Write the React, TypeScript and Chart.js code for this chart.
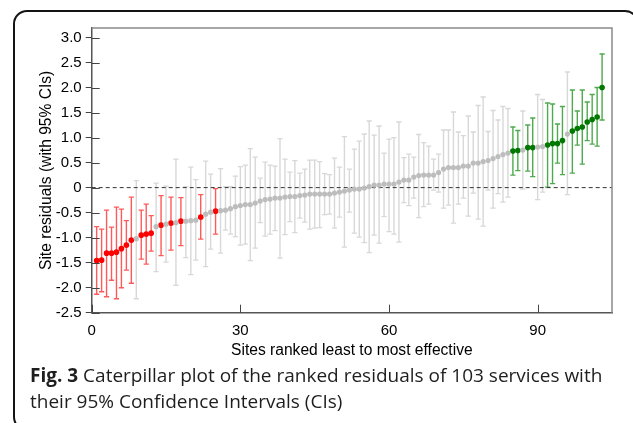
import React, { useEffect, useRef } from 'react';
import { Chart, registerables } from 'chart.js';

Chart.register(...registerables);

// Site residual estimates, ranked least to most effective (rank = position + 1)
const siteEstimate = [
  -1.46, -1.45, -1.31, -1.31, -1.29, -1.22, -1.15, -1.05, -1.02, -0.95,
  -0.93, -0.91, -0.78, -0.75, -0.73, -0.71, -0.70, -0.67, -0.67, -0.66,
  -0.65, -0.59, -0.53, -0.49, -0.47, -0.46, -0.45, -0.42, -0.38, -0.36,
  -0.34, -0.34, -0.31, -0.27, -0.24, -0.23, -0.21, -0.21, -0.19, -0.18,
  -0.18, -0.16, -0.15, -0.13, -0.13, -0.13, -0.13, -0.13, -0.11, -0.09,
  -0.07, -0.05, -0.03, -0.03, -0.01, 0.02, 0.05, 0.05, 0.07, 0.07,
  0.07, 0.11, 0.15, 0.15, 0.21, 0.24, 0.25, 0.25, 0.25, 0.30,
  0.37, 0.40, 0.40, 0.40, 0.43, 0.43, 0.49, 0.49, 0.52, 0.54,
  0.58, 0.62, 0.66, 0.69, 0.73, 0.74, 0.75, 0.80, 0.80, 0.81,
  0.82, 0.85, 0.88, 0.88, 0.94, 1.07, 1.13, 1.18, 1.21, 1.31,
  1.36, 1.41, 2.00,
];

const ciLower = [
  -2.13, -2.08, -2.18, -1.85, -2.22, -2.00, -1.65, -1.91, -2.22, -1.43,
  -1.53, -1.27, -1.68, -1.36, -1.49, -1.25, -1.95, -1.16, -1.40, -1.74,
  -1.45, -1.03, -1.58, -1.23, -0.93, -1.31, -0.85, -0.93, -0.98, -1.15,
  -1.13, -1.46, -1.21, -0.70, -0.97, -0.93, -0.86, -1.41, -0.94, -0.68,
  -0.90, -0.61, -0.69, -0.83, -0.81, -0.80, -0.54, -0.53, -0.81, -0.59,
  -1.19, -0.49, -0.91, -0.99, -1.10, -1.30, -0.95, -1.11, -0.58, -0.88,
  -0.93, -1.09, -0.30, -0.36, -0.21, -0.60, -0.38, -0.33, -0.05, -0.09,
  -0.41, -0.35, -0.71, -0.33, -0.21, -0.57, -0.11, -0.63, -0.77, -0.05,
  -0.41, -0.12, -0.29, -0.19, 0.25, 0.34, -0.03, 0.33, 0.22, -0.24,
  -0.09, 0.01, 0.08, 0.49, 0.26, -0.14, 0.29, 0.85, 0.47, 0.94,
  0.87, 0.83, 1.35,
];

const ciUpper = [
  -0.78, -0.83, -0.45, -0.79, -0.39, -0.43, -0.66, -0.19, 0.14, -0.45,
  -0.33, -0.56, 0.09, -0.16, 0.03, -0.19, 0.57, -0.20, 0.02, 0.41,
  0.16, -0.14, 0.53, 0.27, -0.02, 0.38, 0.02, 0.02, 0.23, 0.42,
  0.45, 0.78, 0.61, 0.19, 0.51, 0.45, 0.43, 0.98, 0.57, 0.31,
  0.54, 0.29, 0.37, 0.55, 0.55, 0.52, 0.28, 0.26, 0.59, 0.41,
  1.02, 0.37, 0.77, 0.93, 1.07, 1.33, 1.05, 1.23, 0.69, 0.97,
  1.00, 1.31, 0.60, 0.67, 0.61, 1.06, 0.90, 0.83, 0.57, 0.67,
  1.15, 1.15, 1.51, 1.11, 1.04, 1.43, 1.11, 1.64, 1.81, 1.12,
  1.54, 1.35, 1.62, 1.58, 1.21, 1.14, 1.53, 1.25, 1.39, 1.86,
  1.76, 1.69, 1.67, 1.27, 1.62, 2.31, 1.95, 1.53, 1.95, 1.71,
  1.86, 2.00, 2.67,
];

// Ranks whose CI lies entirely below / above zero
const belowZeroSites = [1, 2, 3, 4, 5, 6, 7, 8, 10, 11, 12, 14, 16, 18, 22, 25];
const aboveZeroSites = [85, 86, 88, 89, 92, 93, 94, 95, 97, 98, 99, 100, 101, 102, 103];

const xTickValues = [0, 30, 60, 90];
const yTickValues = [-2.5, -2.0, -1.5, -1.0, -0.5, 0, 0.5, 1.0, 1.5, 2.0, 2.5, 3.0];
const yTickLabels = ['-2.5', '-2.0', '-1.5', '-1.0', '-0.5', '0', '0.5', '1.0', '1.5', '2.0', '2.5', '3.0'];

const AXIS_FONT = '"Liberation Sans", Arial, sans-serif';

type Pt = { x: number; y: number; lo: number; hi: number };

function buildPoints(filter: (rank: number) => boolean): Pt[] {
  const out: Pt[] = [];
  siteEstimate.forEach((v, i) => {
    const rank = i + 1;
    if (filter(rank)) out.push({ x: rank, y: v, lo: ciLower[i], hi: ciUpper[i] });
  });
  return out;
}

const errorBarPlugin = {
  id: 'errorBars',
  beforeDatasetsDraw(chart: any) {
    const { ctx, chartArea, scales } = chart;
    const xs = scales.x;
    const ys = scales.y;
    ctx.save();
    chart.data.datasets.forEach((ds: any) => {
      ctx.strokeStyle = ds.barColor;
      ctx.lineWidth = 1.4;
      ds.data.forEach((p: Pt) => {
        const px = xs.getPixelForValue(p.x);
        const top = ys.getPixelForValue(p.hi);
        const bot = ys.getPixelForValue(p.lo);
        ctx.beginPath();
        ctx.moveTo(px, top);
        ctx.lineTo(px, bot);
        ctx.moveTo(px - 2.6, top);
        ctx.lineTo(px + 2.6, top);
        ctx.moveTo(px - 2.6, bot);
        ctx.lineTo(px + 2.6, bot);
        ctx.stroke();
      });
    });
    // dashed zero reference line
    const y0 = ys.getPixelForValue(0);
    ctx.strokeStyle = '#333';
    ctx.lineWidth = 1;
    ctx.setLineDash([4, 3]);
    ctx.beginPath();
    ctx.moveTo(chartArea.left, y0);
    ctx.lineTo(chartArea.right, y0);
    ctx.stroke();
    ctx.restore();
  },
  afterDraw(chart: any) {
    const { ctx, chartArea, scales } = chart;
    const xs = scales.x;
    const ys = scales.y;
    ctx.save();
    // frame top and right
    ctx.strokeStyle = '#8a8a8a';
    ctx.lineWidth = 1.5;
    ctx.beginPath();
    ctx.moveTo(chartArea.left, chartArea.top);
    ctx.lineTo(chartArea.right, chartArea.top);
    ctx.lineTo(chartArea.right, chartArea.bottom);
    ctx.stroke();
    // inner tick marks
    ctx.strokeStyle = '#444';
    ctx.lineWidth = 1;
    ctx.beginPath();
    yTickValues.forEach((v) => {
      const py = Math.round(ys.getPixelForValue(v)) + 0.5;
      ctx.moveTo(chartArea.left, py);
      ctx.lineTo(chartArea.left + 8, py);
    });
    xTickValues.forEach((v) => {
      const px = Math.round(xs.getPixelForValue(v)) + 0.5;
      ctx.moveTo(px, chartArea.bottom);
      ctx.lineTo(px, chartArea.bottom - 8);
    });
    ctx.stroke();
    ctx.restore();
  },
};

function CaterpillarChart() {
  const ref = useRef<HTMLCanvasElement | null>(null);
  useEffect(() => {
    if (!ref.current) return;
    const below = new Set(belowZeroSites);
    const above = new Set(aboveZeroSites);
    const chart = new Chart(ref.current, {
      type: 'scatter',
      data: {
        datasets: [
          {
            label: 'CI includes zero',
            data: buildPoints((r) => !below.has(r) && !above.has(r)),
            backgroundColor: '#bdbdbd',
            borderColor: '#bdbdbd',
            pointRadius: 2.6,
            borderWidth: 0,
            barColor: '#d8d8d8',
          } as any,
          {
            label: 'Below zero',
            data: buildPoints((r) => below.has(r)),
            backgroundColor: '#ff0000',
            borderColor: '#ff0000',
            pointRadius: 2.8,
            borderWidth: 0,
            barColor: '#ff5a5a',
          } as any,
          {
            label: 'Above zero',
            data: buildPoints((r) => above.has(r)),
            backgroundColor: '#007800',
            borderColor: '#007800',
            pointRadius: 2.8,
            borderWidth: 0,
            barColor: '#4dab4d',
          } as any,
        ],
      },
      options: {
        animation: false,
        responsive: false,
        events: [],
        layout: { padding: { left: 30, top: 28, right: 21, bottom: 0 } },
        plugins: {
          legend: { display: false },
          tooltip: { enabled: false },
        },
        scales: {
          x: {
            type: 'linear',
            position: 'bottom',
            min: 0,
            max: 105,
            afterBuildTicks: (s: any) => {
              s.ticks = xTickValues.map((v) => ({ value: v }));
            },
            afterFit: (s: any) => {
              s.height = 52.3;
            },
            grid: { display: false, drawTicks: false },
            border: { display: true, color: '#555', width: 1.5 },
            ticks: {
              padding: 9,
              color: '#000',
              maxRotation: 0,
              autoSkip: false,
              font: { family: AXIS_FONT, size: 15 },
            },
            title: {
              display: true,
              text: 'Sites ranked least to most effective',
              color: '#000',
              font: { family: AXIS_FONT, size: 15.6 },
              padding: { top: 0, bottom: 5.4 },
            },
          },
          y: {
            type: 'linear',
            min: -2.5,
            max: 3.19,
            afterBuildTicks: (s: any) => {
              s.ticks = yTickValues.map((v) => ({ value: v }));
            },
            afterFit: (s: any) => {
              s.width = 61.7;
            },
            grid: {
              display: true,
              drawOnChartArea: false,
              drawTicks: true,
              tickLength: 6,
              color: '#444',
              lineWidth: 1,
            },
            border: { display: true, color: '#555', width: 1.5 },
            ticks: {
              padding: 4,
              color: '#000',
              autoSkip: false,
              font: { family: AXIS_FONT, size: 15 },
              callback: (v: any) => {
                const idx = yTickValues.indexOf(Number(v));
                return idx >= 0 ? yTickLabels[idx] : '';
              },
            },
            title: {
              display: true,
              text: 'Site residuals (with 95% CIs)',
              color: '#000',
              font: { family: AXIS_FONT, size: 15.6 },
              padding: { top: 7, bottom: 0 },
            },
          },
        },
      } as any,
      plugins: [errorBarPlugin],
    });
    return () => chart.destroy();
  }, []);
  return (
    <canvas
      ref={ref}
      width={633}
      height={365}
      style={{ position: 'absolute', left: 0, top: 0, width: 633, height: 365, display: 'block' }}
    />
  );
}

export default function App() {
  return (
    <div
      style={{
        position: 'fixed',
        left: 0,
        top: 0,
        width: 633,
        height: 423,
        overflow: 'hidden',
        background: '#fff',
      }}
    >
      <div
        style={{
          position: 'absolute',
          left: 13,
          top: 10,
          width: 626,
          height: 421,
          border: '2px solid #141414',
          borderRadius: 14,
          boxSizing: 'border-box',
        }}
      />
      <CaterpillarChart />
      <div
        style={{
          position: 'absolute',
          left: 30,
          top: 362,
          fontFamily: '"Open Sans", "Noto Sans", sans-serif',
          fontSize: 19,
          lineHeight: '26px',
          color: '#1e1e1e',
          whiteSpace: 'nowrap',
        }}
      >
        <b>Fig. 3</b> Caterpillar plot of the ranked residuals of 103 services with
        <br />
        their 95% Confidence Intervals (CIs)
      </div>
    </div>
  );
}
